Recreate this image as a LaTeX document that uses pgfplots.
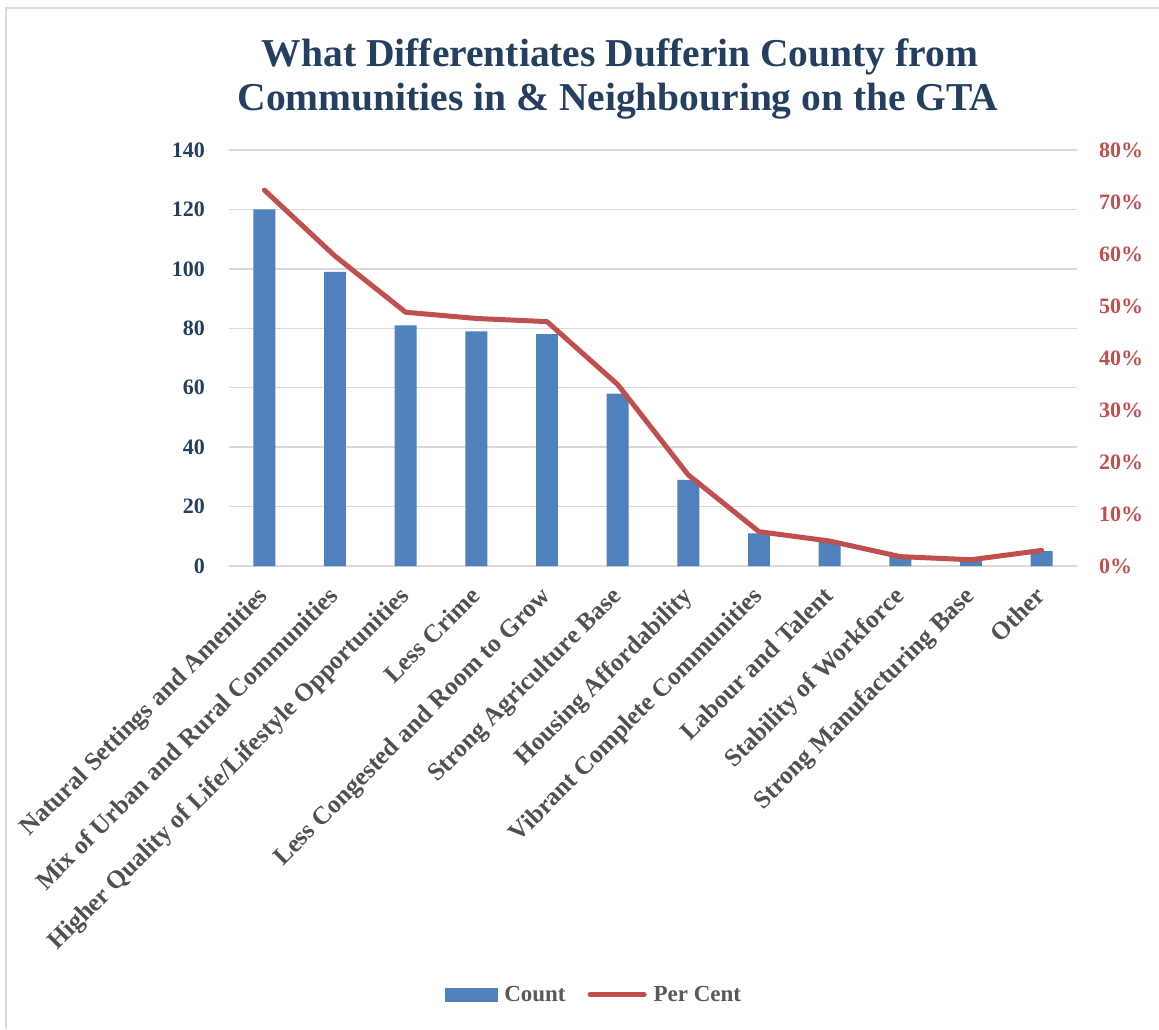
\documentclass[border=0pt]{standalone}
\usepackage{pgfplots}
\pgfplotsset{compat=1.18}
\usepackage{pgfplotstable}
\usepackage{fontspec}
\setmainfont{Liberation Serif}

\definecolor{barblue}{HTML}{4F81BD}
\definecolor{linered}{HTML}{C0504D}
\definecolor{titlenavy}{HTML}{243F60}
\definecolor{gridgray}{HTML}{D9D9D9}
\definecolor{labelgray}{HTML}{505050}
\definecolor{legendgray}{HTML}{595959}

% Responses per differentiator: count and share of respondents (%)
\pgfplotstableread{
idx count percent
0   120   72.3
1   99    59.6
2   81    48.8
3   79    47.6
4   78    47.0
5   58    34.9
6   29    17.5
7   11    6.6
8   8     4.8
9   3     1.8
10  2     1.2
11  5     3.0
}\datatable

\begin{document}
\begin{tikzpicture}
\useasboundingbox (0pt,0pt) rectangle (1159pt,1029pt);
\fill[white] (0pt,0pt) rectangle (1159pt,1029pt);
\draw[gridgray, line width=2pt] (6pt,0pt) -- (6pt,1021pt) -- (1159pt,1021pt);

\node[anchor=base, text=titlenavy, font=\fontsize{39.5}{44}\selectfont\bfseries]
  at (620pt,962pt) {What Differentiates Dufferin County from};
\node[anchor=base, text=titlenavy, font=\fontsize{39.5}{44}\selectfont\bfseries]
  at (618pt,918pt) {Communities in \& Neighbouring on the GTA};

\begin{axis}[
  at={(229pt,463pt)}, anchor=south west,
  scale only axis, width=848pt, height=416pt,
  xmin=-0.5, xmax=11.5, ymin=0, ymax=140,
  ytick={0,20,...,140},
  xtick={0,...,11},
  xticklabels={Natural Settings and Amenities,
    Mix of Urban and Rural Communities,
    Higher Quality of Life/Lifestyle Opportunities,
    Less Crime,
    Less Congested and Room to Grow,
    Strong Agriculture Base,
    Housing Affordability,
    Vibrant Complete Communities,
    Labour and Talent,
    Stability of Workforce,
    Strong Manufacturing Base,
    Other},
  axis line style={draw=none},
  major tick length=0pt,
  ymajorgrids,
  grid style={gridgray, line width=1.5pt},
  /pgf/number format/assume math mode=true,
  yticklabel style={font=\fontsize{22}{26}\selectfont\bfseries, text=titlenavy,
    anchor=east, inner sep=0pt, xshift=-24pt},
  xticklabel style={font=\fontsize{25.3}{29}\selectfont\bfseries, text=labelgray,
    rotate=45, anchor=north east, inner sep=0pt, yshift=-8pt, xshift=-19pt},
]
\addplot[ybar, bar width=0.31, fill=barblue, draw=none] table[x=idx, y=count] {\datatable};
\end{axis}

\begin{axis}[
  at={(229pt,463pt)}, anchor=south west,
  scale only axis, width=848pt, height=416pt,
  xmin=-0.5, xmax=11.5, ymin=0, ymax=80,
  axis x line=none,
  axis y line*=right,
  axis line style={draw=none},
  major tick length=0pt,
  ytick={0,10,...,80},
  /pgf/number format/assume math mode=true,
  yticklabel={\pgfmathprintnumber{\tick}\%},
  yticklabel style={font=\fontsize{22}{26}\selectfont\bfseries, text=linered,
    anchor=west, inner sep=0pt, xshift=22pt},
  legend style={at={(0.4304,-1.030)}, anchor=center, draw=none, fill=none,
    font=\fontsize{23}{27}\selectfont\bfseries, text=legendgray,
    legend columns=-1,
    /tikz/every odd column/.append style={column sep=5pt},
    /tikz/every even column/.append style={column sep=20pt},
    nodes={inner sep=2pt}},
  legend cell align=left,
]
\addlegendimage{legend image code/.code={
  \fill[barblue] (0pt,-6.5pt) rectangle (52pt,6.5pt);}}
\addlegendentry{Count}
\addplot[linered, line width=5pt, line join=round, line cap=round,
  legend image code/.code={\draw[linered, line width=5pt, line cap=round] (0pt,0pt) -- (54pt,0pt);}]
  table[x=idx, y=percent] {\datatable};
\addlegendentry{Per Cent}
\end{axis}
\end{tikzpicture}
\end{document}
